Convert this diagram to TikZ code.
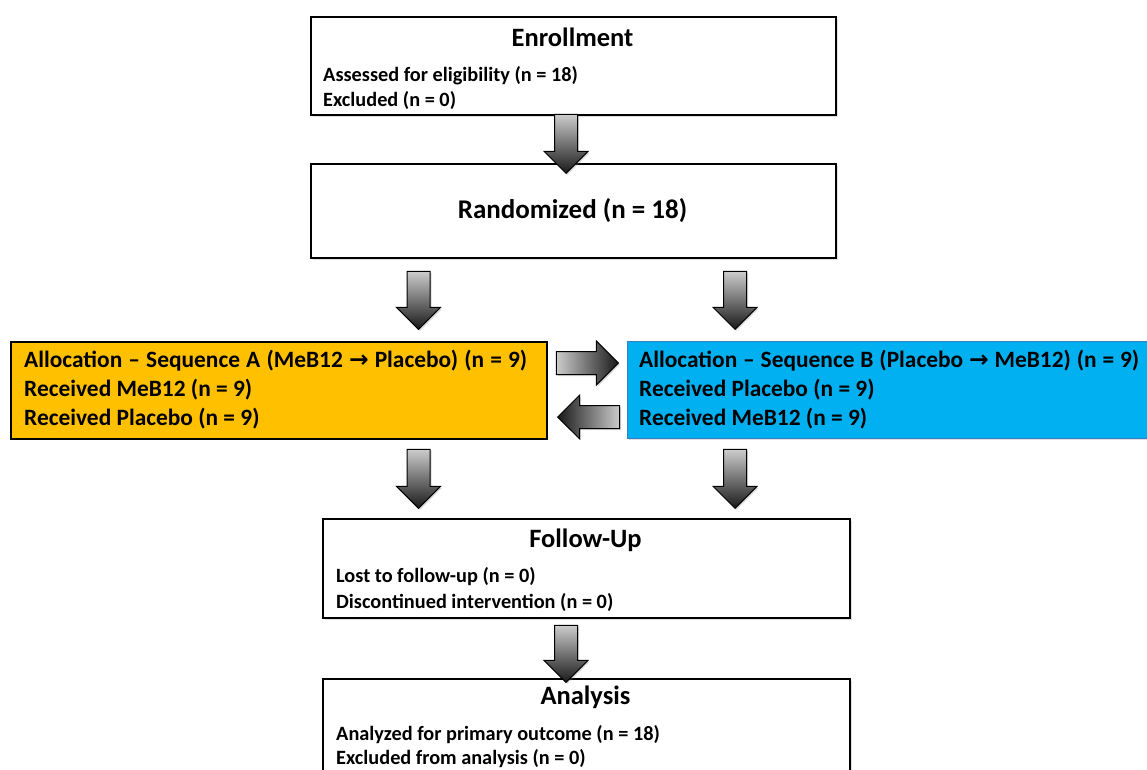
\documentclass[tikz,border=0pt]{standalone}
\usepackage{fontspec}
\setmainfont{Carlito}
\newfontfamily\arrowfont{DejaVu Sans}
\usetikzlibrary{shapes.arrows,shadows}
\definecolor{allocA}{HTML}{FFC000}
\definecolor{allocB}{HTML}{00B0F0}
\definecolor{allocBline}{HTML}{3B7DC4}
\tikzset{
  box/.style={draw=black, line width=2pt, fill=white, inner sep=0pt, anchor=north west,
    drop shadow={opacity=0.25, shadow xshift=1.5pt, shadow yshift=-1.5pt}},
  boxtitle/.style={inner sep=0pt, anchor=center, font=\bfseries\fontsize{26.5}{30}\selectfont},
  boxline/.style={inner sep=0pt, anchor=west, font=\bfseries\fontsize{20.3}{24}\selectfont},
  allocline/.style={inner sep=0pt, anchor=west, font=\bfseries\fontsize{23.4}{26}\selectfont},
  blockarrow/.style={single arrow, inner sep=11pt, minimum width=43pt,
    single arrow head extend=10.5pt, single arrow head indent=0pt,
    draw=black, line width=1pt, anchor=tip,
    drop shadow={opacity=0.3, shadow xshift=1.5pt, shadow yshift=-1.5pt}},
  downarrow/.style={blockarrow, shape border rotate=270, top color=black!20, bottom color=black!90},
  rightarrow/.style={blockarrow, shape border rotate=0, left color=black!20, right color=black!90, minimum height=62pt},
  leftarrow/.style={blockarrow, shape border rotate=180, right color=black!20, left color=black!90, minimum height=62pt},
}
\newcommand{\rarr}{{\arrowfont\bfseries →}}
\begin{document}
\begin{tikzpicture}[x=1pt,y=-1pt]
\useasboundingbox (0,0) rectangle (1147,769);

% boxes
\node[box, minimum width=525pt, minimum height=98pt] (enroll) at (310,16) {};
\node[box, minimum width=525pt, minimum height=94pt] (rand) at (310,163) {};
\node[box, fill=allocA, line width=1.5pt, minimum width=536pt, minimum height=97pt] (seqA) at (10,341) {};
\node[box, fill=allocB, draw=allocBline, line width=1pt, minimum width=540pt, minimum height=97pt] (seqB) at (627,341) {};
\node[box, minimum width=527pt, minimum height=99pt] (follow) at (322,518) {};
\node[box, minimum width=527pt, minimum height=120pt] (analysis) at (322,678) {};

% texts
\node[boxtitle] (enrollT) at (572.5,37) {Enrollment};
\node[boxline] (enroll1) at (323,76) {Assessed for eligibility (n = 18)};
\node[boxline] (enroll2) at (323,100) {Excluded (n = 0)};

\node[boxtitle, font=\bfseries\fontsize{27}{30}\selectfont] (randT) at (572.5,211) {Randomized (n = 18)};

\node[allocline] (seqA1) at (24,361) {\makebox[503pt][s]{Allocation – Sequence A (MeB12 \rarr{} Placebo) (n = 9)}};
\node[allocline] (seqA2) at (24,390) {Received MeB12 (n = 9)};
\node[allocline] (seqA3) at (24,419) {Received Placebo (n = 9)};

\node[allocline] (seqB1) at (639,361) {\makebox[500pt][s]{Allocation – Sequence B (Placebo \rarr{} MeB12) (n = 9)}};
\node[allocline] (seqB2) at (639,390) {Received Placebo (n = 9)};
\node[allocline] (seqB3) at (639,419) {Received MeB12 (n = 9)};

\node[boxtitle] (followT) at (585.5,540) {Follow-Up};
\node[boxline] (follow1) at (336,577) {Lost to follow-up (n = 0)};
\node[boxline] (follow2) at (336,602) {Discontinued intervention (n = 0)};

\node[boxtitle] (analysisT) at (585.5,697) {Analysis};
\node[boxline] (analysis1) at (336,735) {Analyzed for primary outcome (n = 18)};
\node[boxline] (analysis2) at (336,759) {Excluded from analysis (n = 0)};

% block arrows
\node[downarrow, minimum height=59pt] (a1) at (566,174) {};
\node[downarrow, minimum height=58pt] (a2l) at (418.5,330) {};
\node[downarrow, minimum height=58pt] (a2r) at (735,330) {};
\node[downarrow, minimum height=59pt] (a3l) at (418.5,509) {};
\node[downarrow, minimum height=59pt] (a3r) at (735,509) {};
\node[downarrow, minimum height=57pt] (a4) at (566,683) {};
\node[rightarrow] (ar) at (619,363) {};
\node[leftarrow] (al) at (557,417) {};
\end{tikzpicture}
\end{document}
